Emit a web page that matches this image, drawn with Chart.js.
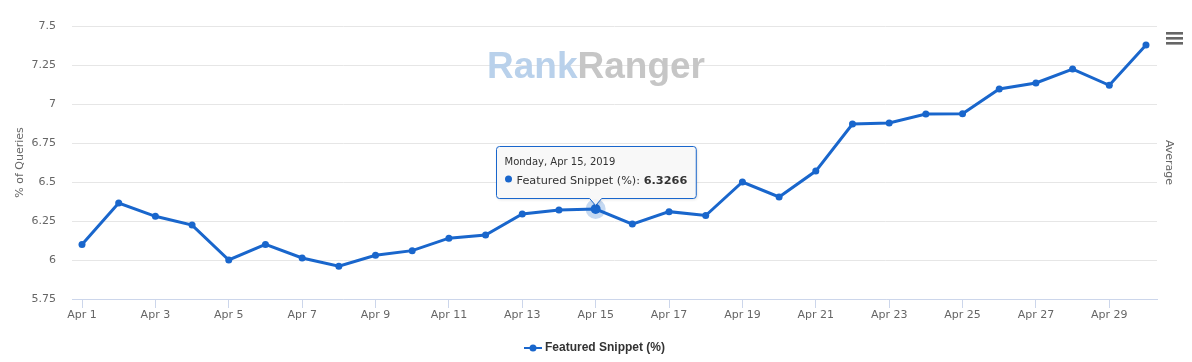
<!DOCTYPE html>
<html>
<head>
<meta charset="utf-8">
<script src="https://cdn.jsdelivr.net/npm/chart.js@4.4.1/dist/chart.umd.min.js"></script>
<style>
  body { margin: 0; background: #fff; }
</style>
</head>
<body>
<canvas id="myChart" width="1192" height="362"></canvas>
<script>
// Dates on the x axis (April 2019)
const days = ['Apr 1', 'Apr 2', 'Apr 3', 'Apr 4', 'Apr 5', 'Apr 6', 'Apr 7', 'Apr 8', 'Apr 9', 'Apr 10',
  'Apr 11', 'Apr 12', 'Apr 13', 'Apr 14', 'Apr 15', 'Apr 16', 'Apr 17', 'Apr 18', 'Apr 19', 'Apr 20',
  'Apr 21', 'Apr 22', 'Apr 23', 'Apr 24', 'Apr 25', 'Apr 26', 'Apr 27', 'Apr 28', 'Apr 29', 'Apr 30'];

// Featured Snippet share, % of queries
const snippet = [6.10, 6.365, 6.28, 6.224, 6.00, 6.10, 6.013, 5.96, 6.03, 6.06,
  6.14, 6.16, 6.295, 6.32, 6.3266, 6.23, 6.31, 6.285, 6.50, 6.404,
  6.57, 6.872, 6.878, 6.936, 6.938, 7.096, 7.135, 7.224, 7.12, 7.378];

// Tick labels
const xTickDays = [0, 2, 4, 6, 8, 10, 12, 14, 16, 18, 20, 22, 24, 26, 28];
const yTicks = [5.75, 6, 6.25, 6.5, 6.75, 7, 7.25, 7.5];

// Hovered point shown in the tooltip
const hoverIndex = 14;
const hoverDate = 'Monday, Apr 15, 2019';

const lineColor = '#1966cc';
const FONT = "'DejaVu Sans', Verdana, sans-serif";

// small legend symbol: line with a dot
const sym = document.createElement('canvas');
sym.width = 18; sym.height = 8;
const sctx = sym.getContext('2d');
sctx.strokeStyle = lineColor; sctx.lineWidth = 2;
sctx.beginPath(); sctx.moveTo(0, 4); sctx.lineTo(18, 4); sctx.stroke();
sctx.fillStyle = lineColor;
sctx.beginPath(); sctx.arc(9, 4, 3.5, 0, Math.PI * 2); sctx.fill();

// Watermark drawn behind the line
const watermark = {
  id: 'watermark',
  beforeDatasetsDraw(chart) {
    const ctx = chart.ctx;
    ctx.save();
    ctx.font = "bold 37px 'Liberation Sans', Arial, sans-serif";
    ctx.textBaseline = 'alphabetic';
    ctx.fillStyle = '#b9d1eb';
    ctx.fillText('Rank', 487, 78);
    const w = ctx.measureText('Rank').width;
    ctx.fillStyle = '#c6c6c6';
    ctx.fillText('Ranger', 487 + w, 78);
    ctx.restore();
  }
};

// Highcharts-like hover halo + tooltip + menu icon
const hoverTip = {
  id: 'hoverTip',
  afterDatasetsDraw(chart) {
    const pt = chart.getDatasetMeta(0).data[hoverIndex];
    const ctx = chart.ctx;
    ctx.save();
    ctx.fillStyle = 'rgba(25,102,204,0.25)';
    ctx.beginPath(); ctx.arc(pt.x, pt.y, 10, 0, Math.PI * 2); ctx.fill();
    ctx.fillStyle = lineColor;
    ctx.beginPath(); ctx.arc(pt.x, pt.y, 5, 0, Math.PI * 2); ctx.fill();
    ctx.restore();
  },
  afterDraw(chart) {
    const pt = chart.getDatasetMeta(0).data[hoverIndex];
    const ctx = chart.ctx;
    ctx.save();
    const label = 'Featured Snippet (%): ';
    const val = snippet[hoverIndex].toFixed(4);
    const mainFont = '11.3px ' + FONT;
    ctx.font = mainFont;
    const wLabel = ctx.measureText(label).width;
    ctx.font = 'bold ' + mainFont;
    const wVal = ctx.measureText(val).width;
    ctx.font = '10px ' + FONT;
    const wDate = ctx.measureText(hoverDate).width;
    const boxW = Math.max(wDate, 12 + wLabel + wVal) + 17;
    const boxH = 52;
    const left = Math.round(pt.x - boxW / 2) + 0.5;
    const bottom = Math.round(pt.y - 11) + 0.5;
    const top = bottom - boxH;
    const r = 3;
    ctx.beginPath();
    ctx.moveTo(left + r, top);
    ctx.lineTo(left + boxW - r, top);
    ctx.arcTo(left + boxW, top, left + boxW, top + r, r);
    ctx.lineTo(left + boxW, bottom - r);
    ctx.arcTo(left + boxW, bottom, left + boxW - r, bottom, r);
    ctx.lineTo(pt.x + 6, bottom);
    ctx.lineTo(pt.x, bottom + 7);
    ctx.lineTo(pt.x - 6, bottom);
    ctx.lineTo(left + r, bottom);
    ctx.arcTo(left, bottom, left, bottom - r, r);
    ctx.lineTo(left, top + r);
    ctx.arcTo(left, top, left + r, top, r);
    ctx.closePath();
    ctx.shadowColor = 'rgba(0,0,0,0.15)';
    ctx.shadowOffsetX = 1; ctx.shadowOffsetY = 1; ctx.shadowBlur = 3;
    ctx.fillStyle = 'rgba(250,250,250,0.92)';
    ctx.fill();
    ctx.shadowColor = 'transparent';
    ctx.strokeStyle = lineColor; ctx.lineWidth = 1;
    ctx.stroke();

    ctx.fillStyle = '#333';
    ctx.textBaseline = 'alphabetic';
    ctx.font = '10px ' + FONT;
    ctx.fillText(hoverDate, left + 8, top + 18);
    ctx.fillStyle = lineColor;
    ctx.beginPath(); ctx.arc(left + 12, top + 32.5, 3.5, 0, Math.PI * 2); ctx.fill();
    ctx.fillStyle = '#333';
    ctx.font = mainFont;
    ctx.fillText(label, left + 20, top + 37);
    ctx.font = 'bold ' + mainFont;
    ctx.fillText(val, left + 20 + wLabel, top + 37);

    // context menu icon
    ctx.fillStyle = '#666';
    [32, 37, 42].forEach(y => ctx.fillRect(1166, y, 17, 2.6));
    ctx.restore();
  }
};

const ctx = document.getElementById('myChart').getContext('2d');
const myChart = new Chart(ctx, {
  type: 'line',
  data: {
    datasets: [{
      label: 'Featured Snippet (%)',
      data: snippet.map((v, i) => ({ x: i, y: v })),
      borderColor: lineColor,
      backgroundColor: lineColor,
      borderWidth: 3,
      pointRadius: 3.5,
      pointHoverRadius: 3.5,
      pointBackgroundColor: lineColor,
      pointBorderWidth: 0,
      tension: 0
    }]
  },
  options: {
    responsive: false,
    animation: false,
    events: [],
    layout: { padding: { top: 26, bottom: -2, left: 0, right: 0 } },
    plugins: {
      tooltip: { enabled: false },
      legend: {
        position: 'bottom',
        labels: {
          usePointStyle: true,
          pointStyle: sym,
          color: '#333',
          padding: 8,
          font: { family: "'Liberation Sans', Arial, sans-serif", size: 12, weight: 'bold' }
        }
      }
    },
    scales: {
      x: {
        type: 'linear',
        min: -0.2726,
        max: 29.3,
        afterBuildTicks: (scale) => { scale.ticks = xTickDays.map(v => ({ value: v })); },
        ticks: {
          callback: (v) => days[v],
          color: '#666',
          padding: 1,
          maxRotation: 0,
          autoSkip: false,
          font: { family: FONT, size: 11 }
        },
        grid: { drawOnChartArea: false, tickLength: 9, color: '#ccd6eb' },
        border: { color: '#ccd6eb' },
        afterFit: (scale) => { scale.height = 35; }
      },
      y: {
        min: 5.75,
        max: 7.5,
        afterBuildTicks: (scale) => { scale.ticks = yTicks.map(v => ({ value: v })); },
        ticks: {
          callback: (v) => String(+v.toFixed(2)),
          color: '#666',
          padding: 16,
          font: { family: FONT, size: 11 }
        },
        grid: { color: '#e6e6e6', drawTicks: false },
        border: { display: false },
        title: {
          display: true,
          text: '% of Queries',
          color: '#666',
          padding: { top: 14, bottom: 0 },
          font: { family: FONT, size: 11 }
        },
        afterFit: (scale) => { scale.width = 72; }
      },
      y1: {
        position: 'right',
        min: 0,
        max: 1,
        ticks: { display: false },
        grid: { display: false },
        border: { display: false },
        title: {
          display: true,
          text: 'Average',
          color: '#666',
          padding: { top: 17, bottom: 0 },
          font: { family: FONT, size: 11 }
        },
        afterFit: (scale) => { scale.width = 35; }
      }
    }
  },
  plugins: [watermark, hoverTip]
});
</script>
</body>
</html>
